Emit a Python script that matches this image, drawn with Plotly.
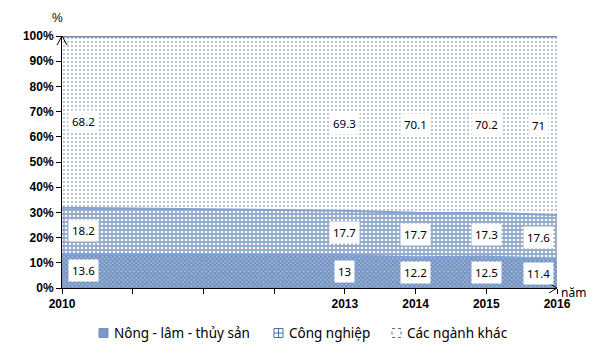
import plotly.graph_objects as go

# ---- data ----
years = ["2010", "2013", "2014", "2015", "2016"]
slots = ["2010", "s1", "s2", "s3", "2013", "2014", "2015", "2016"]
slot_labels = ["2010", "", "", "", "2013", "2014", "2015", "2016"]
nong_lam = [13.6, 13.0, 12.2, 12.5, 11.4]
cong_nghiep = [18.2, 17.7, 17.7, 17.3, 17.6]
nganh_khac = [68.2, 69.3, 70.1, 70.2, 71.0]
series_names = ["Nông - lâm - thủy sản", "Công nghiệp", "Các ngành khác"]

FONT = "Liberation Sans"
LFONT = "Noto Sans"

# figure geometry (page body has an 8px margin)
W, H = 582, 339
ML, MR, MT, MB = 54, 33, 28, 59
PW, PH = W - ML - MR, H - MT - MB


def px(x_screen):
    return (x_screen - 8 - ML) / PW


def py(y_screen):
    return (H - MB - (y_screen - 8)) / PH


fig = go.Figure()
fig.add_trace(go.Scatter(
    x=years, y=nong_lam, name=series_names[0], stackgroup="one", mode="lines",
    line=dict(color="#7fa3d8", width=2), showlegend=False,
    fillpattern=dict(shape="x", fgcolor="#2a5a9c", bgcolor="#a9bddd", size=3, solidity=0.6),
))
fig.add_trace(go.Scatter(
    x=years, y=cong_nghiep, name=series_names[1], stackgroup="one", mode="lines",
    line=dict(color="#7fa3d8", width=2), showlegend=False,
    fillpattern=dict(shape="+", fgcolor="#2f5a98", bgcolor="#ffffff", size=4, solidity=0.7),
))
fig.add_trace(go.Scatter(
    x=years, y=nganh_khac, name=series_names[2], stackgroup="one", mode="lines",
    line=dict(color="#6f88ab", width=3), showlegend=False,
    fillpattern=dict(shape=".", fgcolor="#4a6384", bgcolor="#ffffff", size=4, solidity=0.2),
))

# data labels at segment centres (category axis -> numeric slot index)
annotations = []
for i, yr in enumerate(years):
    xi = slots.index(yr)
    shift = 21 if i == 0 else (-19 if i == len(years) - 1 else 0)
    mids = [
        (nong_lam[i] / 2, nong_lam[i]),
        (nong_lam[i] + cong_nghiep[i] / 2, cong_nghiep[i]),
        (nong_lam[i] + cong_nghiep[i] + nganh_khac[i] / 2, nganh_khac[i]),
    ]
    for ymid, val in mids:
        annotations.append(dict(
            x=xi, y=ymid, xref="x", yref="y", text=f"{val:g}", showarrow=False,
            xshift=shift, bgcolor="#ffffff", borderpad=3,
            font=dict(family=LFONT, size=11.5, color="#000000"),
        ))

annotations.append(dict(x=px(57), y=py(18), xref="paper", yref="paper", text="%",
                        showarrow=False, xanchor="center", yanchor="middle",
                        font=dict(family=FONT, size=12, color="#000000")))
annotations.append(dict(x=px(559), y=py(292), xref="paper", yref="paper", text="năm",
                        showarrow=False, xanchor="left", yanchor="middle",
                        font=dict(family=LFONT, size=12, color="#000000")))

shapes = [
    dict(type="path", xref="paper", yref="paper",
         path=f"M {px(57)} {py(45)} L {px(62)} {py(36)} L {px(67)} {py(45)}",
         line=dict(color="#000000", width=1)),
    dict(type="path", xref="paper", yref="paper",
         path=f"M {px(549)} {py(283)} L {px(557)} {py(288)} L {px(549)} {py(293)}",
         line=dict(color="#000000", width=1)),
]

# manual legend (small square swatches like the original)
leg_y = 333
leg = [(99, 112, "#4f76b0"), (274, 287, "#4770a8"), (392, 405, "#55708f")]
for k, (sx, tx, col) in enumerate(leg):
    annotations.append(dict(x=px(tx), y=py(leg_y), xref="paper", yref="paper",
                            text=series_names[k], showarrow=False, xanchor="left",
                            yanchor="middle",
                            font=dict(family=LFONT, size=13.5, color="#000000")))
    x0, x1, y0, y1 = px(sx), px(sx + 9), py(leg_y + 4.5), py(leg_y - 4.5)
    if k == 0:
        shapes.append(dict(type="rect", xref="paper", yref="paper", x0=x0, x1=x1, y0=y0, y1=y1,
                           fillcolor="#7d98c4", line=dict(color="#6f8fc0", width=1)))
    elif k == 1:
        shapes.append(dict(type="rect", xref="paper", yref="paper", x0=x0, x1=x1, y0=y0, y1=y1,
                           fillcolor="#ffffff", line=dict(color=col, width=1)))
        shapes.append(dict(type="line", xref="paper", yref="paper", x0=(x0 + x1) / 2,
                           x1=(x0 + x1) / 2, y0=y0, y1=y1, line=dict(color=col, width=1)))
        shapes.append(dict(type="line", xref="paper", yref="paper", x0=x0, x1=x1,
                           y0=(y0 + y1) / 2, y1=(y0 + y1) / 2, line=dict(color=col, width=1)))
    else:
        shapes.append(dict(type="rect", xref="paper", yref="paper", x0=x0, x1=x1, y0=y0, y1=y1,
                           fillcolor="#ffffff", line=dict(color=col, width=1, dash="dot")))

fig.update_layout(
    width=W, height=H,
    margin=dict(l=ML, r=MR, t=MT, b=MB, autoexpand=False),
    paper_bgcolor="#ffffff", plot_bgcolor="#ffffff",
    font=dict(family=FONT, size=11, color="#000000"),
    showlegend=False,
    annotations=annotations,
    shapes=shapes,
)
fig.update_xaxes(
    type="category", categoryorder="array", categoryarray=slots,
    tickmode="array", tickvals=slots, ticktext=slot_labels,
    range=[0, len(slots) - 1], showgrid=False, zeroline=False, automargin=False,
    showline=True, linecolor="#000000", linewidth=1,
    ticks="outside", ticklen=5, tickcolor="#000000",
    tickfont=dict(family=FONT, size=12, color="#000000", weight="bold"),
)
fig.update_yaxes(
    range=[0, 100], tickmode="array", tickvals=list(range(0, 101, 10)),
    ticktext=[f"{v}%" for v in range(0, 101, 10)], automargin=False,
    showgrid=False, zeroline=False, showline=True, linecolor="#000000", linewidth=1,
    ticks="outside", ticklen=5, tickcolor="#000000",
    tickfont=dict(family=FONT, size=12, color="#000000", weight="bold"),
)

fig.write_html("out.html")
